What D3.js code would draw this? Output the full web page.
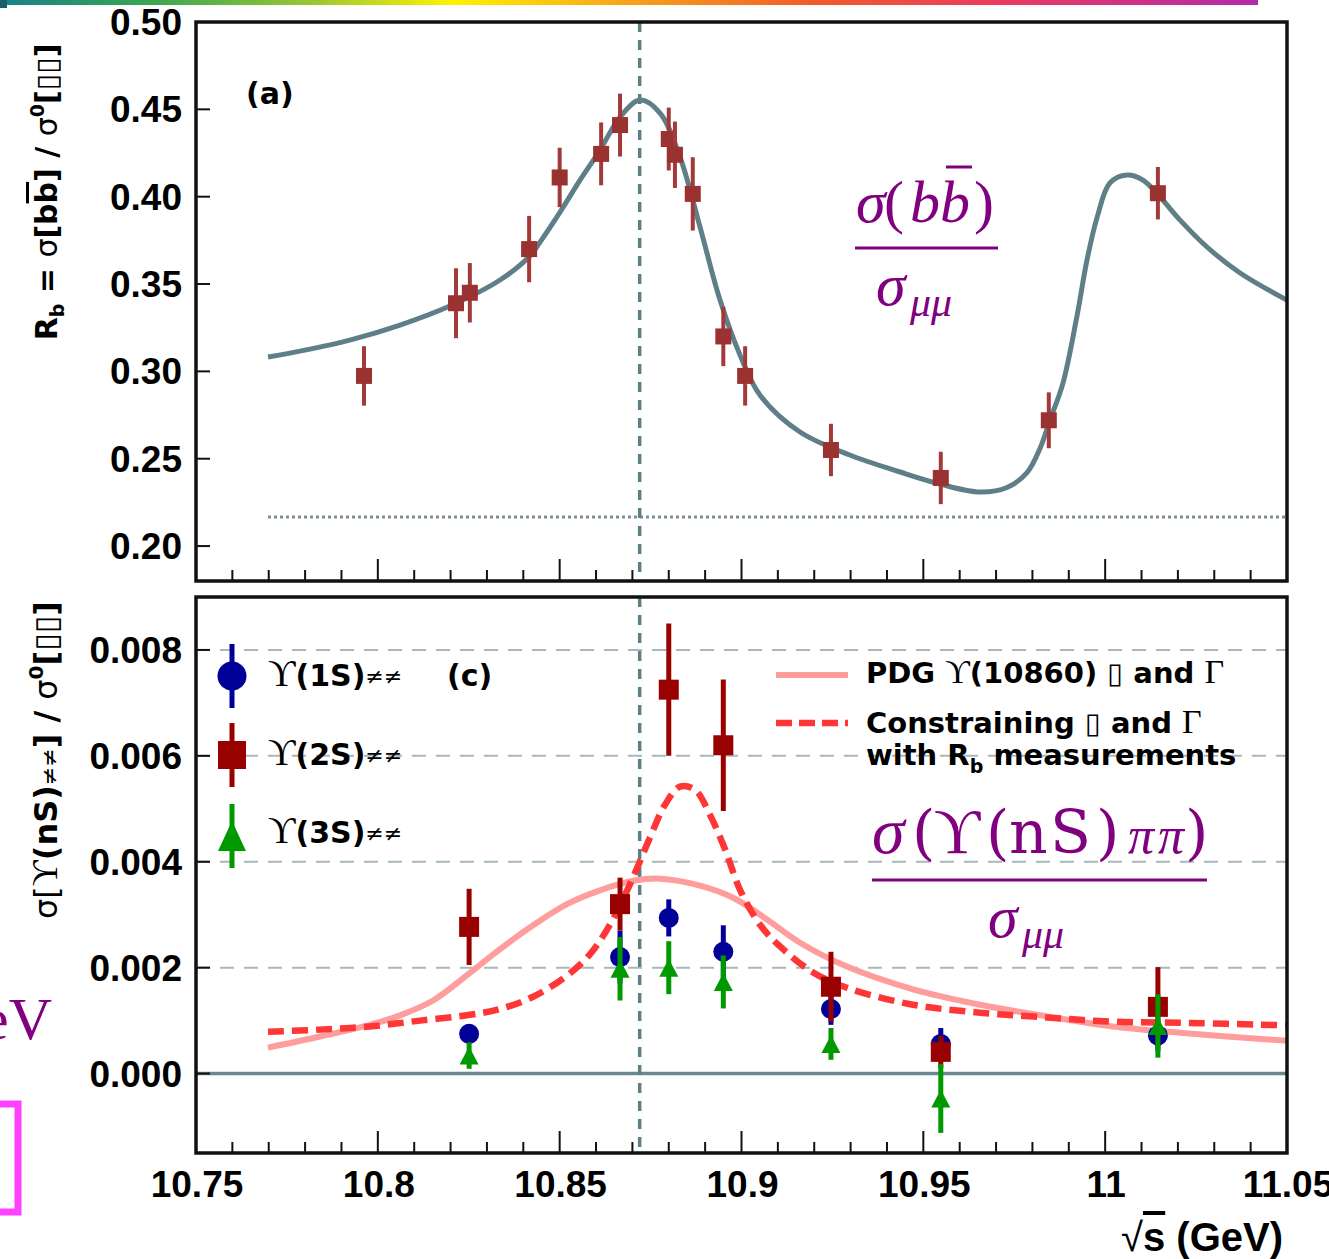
<!DOCTYPE html>
<html lang="en">
<head>
<meta charset="utf-8">
<title>Rb and Y(nS) pi pi energy scan</title>
<script src="https://cdn.jsdelivr.net/npm/d3@7/dist/d3.min.js"></script>
<style>
  body { margin: 0; background: #fff; }
  svg { display: block; }
</style>
</head>
<body>
<script>

// values
var rbEnergy = [10.7962, 10.8215, 10.8253, 10.8416, 10.8500, 10.8614, 10.8666, 10.8800, 10.8817, 10.8866, 10.8950, 10.9010, 10.9246, 10.9548, 10.9845, 11.0145];
var rbValue  = [0.2974, 0.3390, 0.3450, 0.3700, 0.4110, 0.4245, 0.4410, 0.4330, 0.4240, 0.4016, 0.3200, 0.2974, 0.2550, 0.2390, 0.2720, 0.4020];
var rbError  = [0.017, 0.020, 0.017, 0.019, 0.017, 0.018, 0.018, 0.018, 0.019, 0.021, 0.017, 0.017, 0.015, 0.015, 0.016, 0.015];

var fitEnergy = [10.7698, 10.7786, 10.7923, 10.8061, 10.8198, 10.8336, 10.8418, 10.8446, 10.8501, 10.8556, 10.8611, 10.8666, 10.8721, 10.8776, 10.8831, 10.8886, 10.8941, 10.8996, 10.9051, 10.9161, 10.9298, 10.9436, 10.9546, 10.9656, 10.9730, 10.9785, 10.9821, 10.9848, 10.9884, 10.9922, 10.9950, 10.9978, 11.0013, 11.0060, 11.0104, 11.0151, 11.0206, 11.0280, 11.0371, 11.0500];
var fitRb     = [0.3082, 0.3116, 0.3179, 0.3265, 0.3374, 0.3523, 0.3660, 0.3740, 0.3912, 0.4095, 0.4267, 0.4456, 0.4553, 0.4479, 0.4227, 0.3826, 0.3408, 0.3093, 0.2864, 0.2653, 0.2521, 0.2424, 0.2355, 0.2309, 0.2335, 0.2420, 0.2560, 0.2720, 0.2933, 0.3311, 0.3637, 0.3883, 0.4078, 0.4124, 0.4095, 0.3998, 0.3866, 0.3712, 0.3563, 0.3408];

var continuumRb = 0.2166;
var peakEnergy = 10.872;

var nsEnergy = [10.8251, 10.8666, 10.8800, 10.8950, 10.9246, 10.9548, 11.0145];
var y1s      = [0.00075, 0.00220, 0.00294, 0.00230, 0.00122, 0.00056, 0.00072];
var y1sError = [0.00018, 0.00050, 0.00035, 0.00050, 0.00030, 0.00030, 0.00030];
var y2s      = [0.00277, 0.00320, 0.00725, 0.00620, 0.00164, 0.00041, 0.00126];
var y2sError = [0.00072, 0.00050, 0.00125, 0.00124, 0.00066, 0.00030, 0.00075];
var y3s      = [0.00034, 0.00198, 0.00200, 0.00173, 0.00056, -0.00047, 0.00090];
var y3sError = [0.00025, 0.00060, 0.00050, 0.00050, 0.00030, 0.00065, 0.00060];

var pdgEnergy = [10.7698, 10.7841, 10.7978, 10.8061, 10.8152, 10.8253, 10.8336, 10.8427, 10.8520, 10.8611, 10.8702, 10.8776, 10.8886, 10.8977, 10.9070, 10.9161, 10.9290, 10.9472, 10.9656, 10.9840, 11.0021, 11.0206, 11.0500];
var pdgValue  = [0.00049, 0.00070, 0.00092, 0.00110, 0.00138, 0.00190, 0.00235, 0.00280, 0.00320, 0.00346, 0.00364, 0.00368, 0.00355, 0.00332, 0.00291, 0.00247, 0.00202, 0.00159, 0.00130, 0.00108, 0.00089, 0.00077, 0.00062];

var conEnergy = [10.7698, 10.7841, 10.7978, 10.8116, 10.8253, 10.8336, 10.8427, 10.8520, 10.8583, 10.8638, 10.8693, 10.8748, 10.8790, 10.8831, 10.8872, 10.8913, 10.8955, 10.8996, 10.9051, 10.9106, 10.9197, 10.9290, 10.9472, 10.9656, 10.9840, 11.0021, 11.0206, 11.0500];
var conValue  = [0.00079, 0.00083, 0.00089, 0.00100, 0.00111, 0.00122, 0.00145, 0.00185, 0.00225, 0.00281, 0.00357, 0.00445, 0.00508, 0.00542, 0.00536, 0.00489, 0.00423, 0.00347, 0.00281, 0.00240, 0.00191, 0.00162, 0.00130, 0.00115, 0.00106, 0.00098, 0.00096, 0.00091];

var xTicks = [10.75, 10.8, 10.85, 10.9, 10.95, 11, 11.05];
var xTickLabels = ["10.75", "10.8", "10.85", "10.9", "10.95", "11", "11.05"];
var rbTicks = [0.20, 0.25, 0.30, 0.35, 0.40, 0.45, 0.50];
var rbTickLabels = ["0.20", "0.25", "0.30", "0.35", "0.40", "0.45", "0.50"];
var nsTicks = [0, 0.002, 0.004, 0.006, 0.008];
var nsTickLabels = ["0.000", "0.002", "0.004", "0.006", "0.008"];

var W = 1329, H = 1259;
var left = 196, right = 1287;
var topPanel = {top: 22, bottom: 581};
var botPanel = {top: 597, bottom: 1153};

var sans = "'Liberation Sans', Arial, Helvetica, sans-serif";
var dejavu = "'DejaVu Sans', Verdana, sans-serif";
var serif = "'Liberation Serif', 'DejaVu Serif', 'Times New Roman', serif";
var wideSerif = "'DejaVu Serif', 'Liberation Serif', serif";
var purple = "#800080";
var slate = "#5f7f88";

var x = d3.scaleLinear().domain([10.75, 11.05]).range([left, right]);
var yRb = d3.scaleLinear().domain([0.18, 0.50]).range([topPanel.bottom, topPanel.top]);
var yNs = d3.scaleLinear().domain([-0.0015, 0.009]).range([botPanel.bottom, botPanel.top]);

var svg = d3.select("body").append("svg")
  .attr("width", W)
  .attr("height", H)
  .attr("font-family", sans);

// slide decoration: rainbow strip on top
var grad = svg.append("defs").append("linearGradient").attr("id", "strip");
[["0%", "#17818a"], ["12%", "#3aa651"], ["25%", "#9cc732"], ["36%", "#fff200"], ["50%", "#f7a21b"], ["65%", "#f15a2b"], ["80%", "#ea3a62"], ["100%", "#b22aaa"]]
  .forEach(function(s) { grad.append("stop").attr("offset", s[0]).attr("stop-color", s[1]); });
svg.append("rect").attr("x", 0).attr("y", 0).attr("width", 1258).attr("height", 5).attr("fill", "url(#strip)");
svg.append("rect").attr("x", 0).attr("y", 0).attr("width", 7).attr("height", 8).attr("fill", "#1b5e6b");

// ---------- top panel (a) ----------
var gTop = svg.append("g");

gTop.append("line")
  .attr("x1", x(10.7698)).attr("x2", right)
  .attr("y1", yRb(continuumRb)).attr("y2", yRb(continuumRb))
  .attr("stroke", "#7d9098").attr("stroke-width", 3).attr("stroke-dasharray", "3,3");

gTop.append("line")
  .attr("x1", x(peakEnergy)).attr("x2", x(peakEnergy))
  .attr("y1", topPanel.top).attr("y2", topPanel.bottom)
  .attr("stroke", slate).attr("stroke-width", 3.5).attr("stroke-dasharray", "10,8");

var fitLine = d3.line()
  .x(function(d, i) { return x(fitEnergy[i]); })
  .y(function(d) { return yRb(d); })
  .curve(d3.curveCatmullRom.alpha(0.5));

gTop.append("path")
  .attr("d", fitLine(fitRb))
  .attr("fill", "none").attr("stroke", slate).attr("stroke-width", 5);

var rbPts = gTop.selectAll("g.rb").data(rbValue).enter().append("g").attr("class", "rb");
rbPts.append("line")
  .attr("x1", function(d, i) { return x(rbEnergy[i]); })
  .attr("x2", function(d, i) { return x(rbEnergy[i]); })
  .attr("y1", function(d, i) { return yRb(d - rbError[i]); })
  .attr("y2", function(d, i) { return yRb(d + rbError[i]); })
  .attr("stroke", "#a33a3a").attr("stroke-width", 4);
rbPts.append("rect")
  .attr("x", function(d, i) { return x(rbEnergy[i]) - 8; })
  .attr("y", function(d) { return yRb(d) - 8; })
  .attr("width", 16).attr("height", 16)
  .attr("fill", "#9b3232");

gTop.append("text")
  .attr("x", 246).attr("y", 104)
  .attr("font-family", dejavu).attr("font-size", 30).attr("font-weight", "bold")
  .text("(a)");

// ---------- bottom panel (c) ----------
var gBot = svg.append("g");

gBot.selectAll("line.grid").data(nsTicks.slice(1)).enter().append("line")
  .attr("class", "grid")
  .attr("x1", left).attr("x2", right)
  .attr("y1", function(d) { return yNs(d); })
  .attr("y2", function(d) { return yNs(d); })
  .attr("stroke", "#a9b8bd").attr("stroke-width", 2).attr("stroke-dasharray", "14,10");

gBot.append("line")
  .attr("x1", left).attr("x2", right)
  .attr("y1", yNs(0)).attr("y2", yNs(0))
  .attr("stroke", "#6a8890").attr("stroke-width", 3.5);

gBot.append("line")
  .attr("x1", x(peakEnergy)).attr("x2", x(peakEnergy))
  .attr("y1", botPanel.top).attr("y2", botPanel.bottom)
  .attr("stroke", slate).attr("stroke-width", 3.5).attr("stroke-dasharray", "10,8");

var pdgLine = d3.line()
  .x(function(d, i) { return x(pdgEnergy[i]); })
  .y(function(d) { return yNs(d); })
  .curve(d3.curveCatmullRom.alpha(0.5));
var conLine = d3.line()
  .x(function(d, i) { return x(conEnergy[i]); })
  .y(function(d) { return yNs(d); })
  .curve(d3.curveCatmullRom.alpha(0.5));

gBot.append("path")
  .attr("d", pdgLine(pdgValue))
  .attr("fill", "none").attr("stroke", "#ff9d9d").attr("stroke-width", 6);
gBot.append("path")
  .attr("d", conLine(conValue))
  .attr("fill", "none").attr("stroke", "#ff3636").attr("stroke-width", 6.5).attr("stroke-dasharray", "16,8");

function triangle(cx, cy, w, h) {
  return "M" + cx + "," + (cy - h / 2) + "L" + (cx + w / 2) + "," + (cy + h / 2) + "L" + (cx - w / 2) + "," + (cy + h / 2) + "Z";
}

function drawSeries(vals, errs, color, shape) {
  var g = gBot.append("g");
  var pts = g.selectAll("g").data(vals).enter().append("g");
  pts.append("line")
    .attr("x1", function(d, i) { return x(nsEnergy[i]); })
    .attr("x2", function(d, i) { return x(nsEnergy[i]); })
    .attr("y1", function(d, i) { return yNs(d - errs[i]); })
    .attr("y2", function(d, i) { return yNs(d + errs[i]); })
    .attr("stroke", color).attr("stroke-width", 5);
  if (shape === "circle") {
    pts.append("circle")
      .attr("cx", function(d, i) { return x(nsEnergy[i]); })
      .attr("cy", function(d) { return yNs(d); })
      .attr("r", 10).attr("fill", color);
  } else if (shape === "square") {
    pts.append("rect")
      .attr("x", function(d, i) { return x(nsEnergy[i]) - 10; })
      .attr("y", function(d) { return yNs(d) - 10; })
      .attr("width", 20).attr("height", 20).attr("fill", color);
  } else {
    pts.append("path")
      .attr("d", function(d, i) { return triangle(x(nsEnergy[i]), yNs(d), 19, 18); })
      .attr("fill", color);
  }
}
drawSeries(y1s, y1sError, "#000099", "circle");
drawSeries(y2s, y2sError, "#990000", "square");
drawSeries(y3s, y3sError, "#009900", "triangle");

// legend, left
var legendItems = [
  {label: "(1S)", color: "#000099", shape: "circle", y: 676, base: 686},
  {label: "(2S)", color: "#990000", shape: "square", y: 755, base: 765},
  {label: "(3S)", color: "#009900", shape: "triangle", y: 836, base: 843}
];
var leg = gBot.selectAll("g.leg").data(legendItems).enter().append("g").attr("class", "leg");
leg.append("line")
  .attr("x1", 232).attr("x2", 232)
  .attr("y1", function(d) { return d.y - 32; })
  .attr("y2", function(d) { return d.y + 32; })
  .attr("stroke", function(d) { return d.color; }).attr("stroke-width", 5);
leg.each(function(d) {
  var g = d3.select(this);
  if (d.shape === "circle") g.append("circle").attr("cx", 232).attr("cy", d.y).attr("r", 14.5).attr("fill", d.color);
  else if (d.shape === "square") g.append("rect").attr("x", 218).attr("y", d.y - 14).attr("width", 28).attr("height", 28).attr("fill", d.color);
  else g.append("path").attr("d", triangle(232, d.y, 28, 30)).attr("fill", d.color);
  var t = g.append("text").attr("x", 268).attr("y", d.base).attr("font-family", dejavu).attr("font-size", 30);
  t.append("tspan").attr("font-family", serif).attr("font-size", 38).text("\u03D2");
  t.append("tspan").attr("font-weight", "bold").text(d.label);
  t.append("tspan").attr("font-size", 22).attr("dy", -2).text("\u2260\u2260");
});

gBot.append("text")
  .attr("x", 447).attr("y", 686)
  .attr("font-family", dejavu).attr("font-size", 30).attr("font-weight", "bold")
  .text("(c)");

// legend, right
gBot.append("line").attr("x1", 776).attr("x2", 848).attr("y1", 675).attr("y2", 675)
  .attr("stroke", "#ff9d9d").attr("stroke-width", 6);
gBot.append("line").attr("x1", 776).attr("x2", 848).attr("y1", 723).attr("y2", 723)
  .attr("stroke", "#ff3636").attr("stroke-width", 6.5).attr("stroke-dasharray", "16,7");

var legRight = gBot.append("g").attr("font-family", dejavu).attr("font-size", 29).attr("font-weight", "bold");
var l1 = legRight.append("text").attr("x", 866).attr("y", 683);
l1.append("tspan").text("PDG ");
l1.append("tspan").attr("font-family", serif).attr("font-weight", "normal").attr("font-size", 34).text("\u03D2");
l1.append("tspan").text("(10860) ");
l1.append("tspan").attr("font-weight", "normal").text("\u25AF");
l1.append("tspan").text(" and ");
l1.append("tspan").attr("font-family", serif).attr("font-weight", "normal").attr("font-size", 34).text("\u0393");

var l2 = legRight.append("text").attr("x", 866).attr("y", 733);
l2.append("tspan").text("Constraining ");
l2.append("tspan").attr("font-weight", "normal").text("\u25AF");
l2.append("tspan").text(" and ");
l2.append("tspan").attr("font-family", serif).attr("font-weight", "normal").attr("font-size", 34).text("\u0393");

var l3 = legRight.append("text").attr("x", 866).attr("y", 765);
l3.append("tspan").text("with R");
l3.append("tspan").attr("font-size", 19).attr("dy", 8).text("b");
l3.append("tspan").attr("dy", -8).text(" measurements");

// ---------- axes ----------
function xTicksFor(bottom) {
  var minor = d3.range(0, 31).map(function(i) { return 10.75 + i * 0.01; });
  svg.append("g").selectAll("line").data(minor).enter().append("line")
    .attr("x1", function(d) { return x(d); })
    .attr("x2", function(d) { return x(d); })
    .attr("y1", bottom)
    .attr("y2", function(d, i) { return bottom - (i % 5 === 0 ? 22 : 11); })
    .attr("stroke", "#111").attr("stroke-width", 2);
}
xTicksFor(topPanel.bottom);
xTicksFor(botPanel.bottom);

svg.append("g").selectAll("line").data(rbTicks).enter().append("line")
  .attr("x1", left).attr("x2", left + 14)
  .attr("y1", function(d) { return yRb(d); })
  .attr("y2", function(d) { return yRb(d); })
  .attr("stroke", "#111").attr("stroke-width", 2);
svg.append("g").selectAll("line").data(nsTicks).enter().append("line")
  .attr("x1", left).attr("x2", left + 14)
  .attr("y1", function(d) { return yNs(d); })
  .attr("y2", function(d) { return yNs(d); })
  .attr("stroke", "#111").attr("stroke-width", 2);

[topPanel, botPanel].forEach(function(p) {
  svg.append("rect")
    .attr("x", left).attr("y", p.top)
    .attr("width", right - left).attr("height", p.bottom - p.top)
    .attr("fill", "none").attr("stroke", "#111").attr("stroke-width", 3.5);
});

svg.append("g").selectAll("text").data(rbTicks).enter().append("text")
  .attr("x", 182)
  .attr("y", function(d) { return yRb(d) + 13; })
  .attr("text-anchor", "end").attr("font-size", 37).attr("font-weight", "bold")
  .text(function(d, i) { return rbTickLabels[i]; });
svg.append("g").selectAll("text").data(nsTicks).enter().append("text")
  .attr("x", 182)
  .attr("y", function(d) { return yNs(d) + 13; })
  .attr("text-anchor", "end").attr("font-size", 37).attr("font-weight", "bold")
  .text(function(d, i) { return nsTickLabels[i]; });
svg.append("g").selectAll("text").data(xTicks).enter().append("text")
  .attr("x", function(d) { return x(d) + 1; })
  .attr("y", 1197)
  .attr("text-anchor", "middle").attr("font-size", 37).attr("font-weight", "bold")
  .text(function(d, i) { return xTickLabels[i]; });

var xl = svg.append("text")
  .attr("x", 1283).attr("y", 1251)
  .attr("text-anchor", "end").attr("font-size", 40).attr("font-weight", "bold");
xl.append("tspan").attr("font-weight", "normal").text("\u221A");
xl.append("tspan").style("text-decoration", "overline").text("s");
xl.append("tspan").text(" (GeV)");

var yl1 = svg.append("text")
  .attr("transform", "translate(57,192) rotate(-90)")
  .attr("text-anchor", "middle").attr("font-family", dejavu).attr("font-size", 30).attr("font-weight", "bold");
yl1.append("tspan").text("R");
yl1.append("tspan").attr("font-size", 19).attr("dy", 7).text("b");
yl1.append("tspan").attr("dy", -7).text(" = ");
yl1.append("tspan").attr("font-weight", "normal").text("\u03C3");
yl1.append("tspan").text("[b");
yl1.append("tspan").style("text-decoration", "overline").text("b");
yl1.append("tspan").text("] / ");
yl1.append("tspan").attr("font-weight", "normal").text("\u03C3");
yl1.append("tspan").attr("font-size", 19).attr("dy", -13).text("0");
yl1.append("tspan").attr("dy", 13).text("[");
yl1.append("tspan").attr("font-weight", "normal").text("\u25AF\u25AF");
yl1.append("tspan").text("]");

var yl2 = svg.append("text")
  .attr("transform", "translate(57,760) rotate(-90)")
  .attr("text-anchor", "middle").attr("font-family", dejavu).attr("font-size", 32);
yl2.append("tspan").text("\u03C3[");
yl2.append("tspan").attr("font-family", serif).attr("font-size", 36).text("\u03D2");
yl2.append("tspan").attr("font-weight", "bold").text("(nS)");
yl2.append("tspan").attr("font-size", 22).text("\u2260\u2260");
yl2.append("tspan").attr("font-weight", "bold").text("] / ");
yl2.append("tspan").text("\u03C3");
yl2.append("tspan").attr("font-size", 20).attr("font-weight", "bold").attr("dy", -14).text("0");
yl2.append("tspan").attr("dy", 14).attr("font-weight", "bold").text("[");
yl2.append("tspan").text("\u25AF\u25AF");
yl2.append("tspan").attr("font-weight", "bold").text("]");

// ---------- slide annotations (purple formulas) ----------
var f1 = svg.append("g").attr("fill", purple).attr("font-family", serif).attr("font-size", 60);
var n1 = f1.append("text").attr("y", 222);
n1.append("tspan").attr("x", 856).attr("font-style", "italic").text("\u03C3");
n1.append("tspan").attr("x", 884).text("(");
n1.append("tspan").attr("x", 910).attr("font-style", "italic").text("b");
n1.append("tspan").attr("x", 940).attr("font-style", "italic").text("b");
n1.append("tspan").attr("x", 974).text(")");
f1.append("line").attr("x1", 946).attr("x2", 972).attr("y1", 167).attr("y2", 167).attr("stroke", purple).attr("stroke-width", 3);
f1.append("line").attr("x1", 855).attr("x2", 998).attr("y1", 248).attr("y2", 248).attr("stroke", purple).attr("stroke-width", 3);
var d1 = f1.append("text").attr("y", 305);
d1.append("tspan").attr("x", 876).attr("font-style", "italic").text("\u03C3");
d1.append("tspan").attr("x", 910).attr("y", 316).attr("font-size", 42).attr("font-style", "italic").text("\u03BC\u03BC");

var f2 = svg.append("g").attr("fill", purple).attr("font-family", serif).attr("font-size", 66);
var n2 = f2.append("text").attr("y", 853);
n2.append("tspan").attr("x", 872).attr("font-style", "italic").text("\u03C3");
n2.append("tspan").attr("x", 912).attr("font-family", wideSerif).attr("font-size", 60).text("(");
n2.append("tspan").attr("x", 934).attr("font-size", 64).text("\u03D2");
n2.append("tspan").attr("x", 986).attr("font-family", wideSerif).attr("font-size", 60).text("(");
n2.append("tspan").attr("x", 1009).attr("font-family", wideSerif).attr("font-size", 60).text("n");
n2.append("tspan").attr("x", 1050).attr("font-family", wideSerif).attr("font-size", 60).text("S");
n2.append("tspan").attr("x", 1096).attr("font-family", wideSerif).attr("font-size", 60).text(")");
n2.append("tspan").attr("x", 1128).attr("font-style", "italic").attr("font-size", 52).text("\u03C0");
n2.append("tspan").attr("x", 1158).attr("font-style", "italic").attr("font-size", 52).text("\u03C0");
n2.append("tspan").attr("x", 1185).attr("font-family", wideSerif).attr("font-size", 60).text(")");
f2.append("line").attr("x1", 872).attr("x2", 1207).attr("y1", 880).attr("y2", 880).attr("stroke", purple).attr("stroke-width", 3);
var d2 = f2.append("text").attr("y", 937).attr("font-size", 60);
d2.append("tspan").attr("x", 988).attr("font-style", "italic").text("\u03C3");
d2.append("tspan").attr("x", 1022).attr("y", 948).attr("font-size", 42).attr("font-style", "italic").text("\u03BC\u03BC");

// cut-off pieces of the slide on the left edge
svg.append("text")
  .attr("x", 52).attr("y", 1039)
  .attr("text-anchor", "end")
  .attr("font-family", serif).attr("font-size", 60).attr("fill", purple)
  .text("eV");
svg.append("path")
  .attr("d", "M-10,1104 L18,1104 L18,1212 L-10,1212")
  .attr("fill", "none").attr("stroke", "#ff40ff").attr("stroke-width", 7);

</script>
</body>
</html>
